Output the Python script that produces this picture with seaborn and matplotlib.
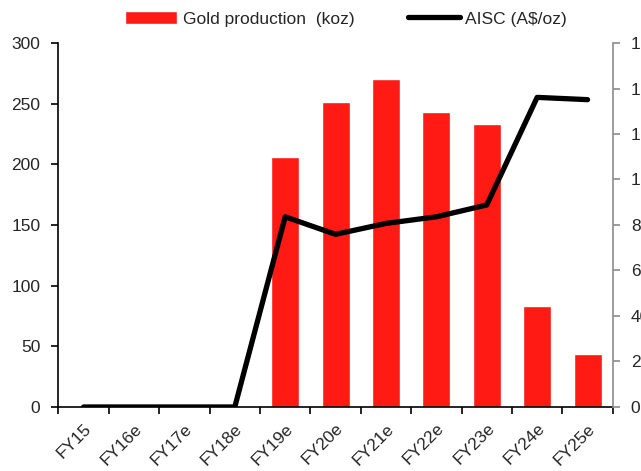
import numpy as np
import pandas as pd
import matplotlib
matplotlib.use("Agg")
import matplotlib.pyplot as plt
import seaborn as sns
from matplotlib.ticker import FixedLocator, NullFormatter, FuncFormatter

categories = ["FY15", "FY16e", "FY17e", "FY18e", "FY19e", "FY20e",
              "FY21e", "FY22e", "FY23e", "FY24e", "FY25e"]
production_koz = [0, 0, 0, 0, 206, 251, 270, 243, 233, 83, 44]
aisc_aud = [0, 0, 0, 0, 836, 759, 807, 836, 888, 1361, 1351]

sns.set_theme(style="white")
plt.rcParams["font.family"] = ["Liberation Sans", "DejaVu Sans"]
FS = 12.5

df = pd.DataFrame({"year": categories, "prod": production_koz,
                   "aisc": aisc_aud, "pos": np.arange(len(categories))})

fig = plt.figure(figsize=(6.41, 4.71), dpi=100)
ax = fig.add_axes([0.0911, 0.1359, 0.8648, 0.7728])

RED = "#FF1A14"
sns.barplot(data=df, x="year", y="prod", color=RED, width=0.556,
            saturation=1, ax=ax, label="Gold production  (koz)")

ax2 = ax.twinx()
sns.lineplot(data=df, x="pos", y="aisc", color="black", linewidth=3.8,
             ax=ax2, label="AISC (A$/oz)", solid_capstyle="round")

n = len(categories)
ax.set_xlim(-0.5, n - 0.5)
ax.set_ylim(0, 300)
ax2.set_ylim(0, 1600)
ax.set_yticks(np.arange(0, 301, 50))
ax2.set_yticks(np.arange(0, 1601, 200))
ax2.yaxis.set_major_formatter(FuncFormatter(lambda v, p: f"{v:,.0f}"))

# category boundaries carry the tick marks, labels sit at category centres
ax.xaxis.set_major_locator(FixedLocator(np.arange(-0.5, n, 1.0)))
ax.xaxis.set_major_formatter(NullFormatter())
ax.set_xticks(np.arange(n), minor=True)
ax.set_xticklabels(categories, minor=True, rotation=45, ha="right",
                   rotation_mode="anchor", fontsize=FS)
ax.tick_params(axis="x", which="minor", length=0, pad=10)
ax.tick_params(axis="x", which="major", length=5, width=1.2,
               color="black", direction="out", bottom=True)
ax.tick_params(axis="y", length=5, width=1.2, color="black",
               direction="out", left=True, labelsize=FS, pad=8)
ax2.tick_params(axis="y", length=5, width=1.2, color="#8c8c8c",
                direction="out", right=True, labelsize=FS, pad=8)

ax.set_xlabel("")
ax.set_ylabel("")
ax2.set_xlabel("")
ax2.set_ylabel("")

for a in (ax, ax2):
    for s in a.spines.values():
        s.set_visible(False)
ax.spines["left"].set_visible(True)
ax.spines["left"].set_color("black")
ax.spines["left"].set_linewidth(1.2)
ax.spines["bottom"].set_visible(True)
ax.spines["bottom"].set_color("black")
ax.spines["bottom"].set_linewidth(1.2)
ax2.spines["right"].set_visible(True)
ax2.spines["right"].set_color("#8c8c8c")
ax2.spines["right"].set_linewidth(1.2)
ax.grid(False)
ax2.grid(False)

h1, l1 = ax.get_legend_handles_labels()
h2, l2 = ax2.get_legend_handles_labels()
for a in (ax, ax2):
    if a.get_legend() is not None:
        a.get_legend().remove()
fig.legend(h1 + h2, l1 + l2, ncol=2, loc="upper center",
           bbox_to_anchor=(0.54, 1.009), frameon=False, fontsize=FS,
           handlelength=3.0, handletextpad=0.3, columnspacing=3.1)

fig.savefig("out.png", dpi=100)
